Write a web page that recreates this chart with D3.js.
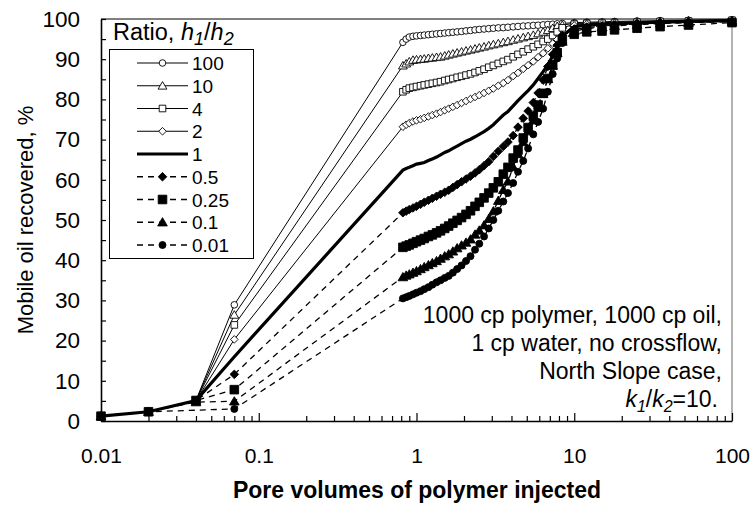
<!DOCTYPE html>
<html>
<head>
<meta charset="utf-8">
<script src="https://cdn.jsdelivr.net/npm/d3@7"></script>
<style>
body { margin: 0; background: #fff; }
svg { display: block; font-family: "Liberation Sans", Arial, sans-serif; }
</style>
</head>
<body>
<div id="viz"></div>
<script>
// pore volumes injected (x values)
var earlyPV = [0.01, 0.02, 0.04, 0.07];
var densePV = [0.82, 0.86, 0.9, 0.95, 1.0, 1.06, 1.12, 1.19, 1.26, 1.34,
  1.42, 1.51, 1.6, 1.7, 1.81, 1.93, 2.06, 2.2, 2.35, 2.5,
  2.68, 2.87, 3.07, 3.3, 3.55, 3.8, 4.1, 4.4, 4.75, 5.1,
  5.5, 5.9, 6.35, 6.8, 7.3, 7.8, 8.4];
var tailPV = [10, 12, 15, 18, 25, 35, 53, 100];
var pv = earlyPV.concat(densePV).concat(tailPV);

// mobile oil recovered, % (one array per h1/h2 ratio)
var rec100 = [1.2, 2.3, 5.1, 28.9,
  94.2, 95.0, 95.5, 95.7, 95.8, 95.9, 96.0, 96.1, 96.2, 96.3,
  96.4, 96.5, 96.6, 96.7, 96.8, 96.9, 97.05, 97.15, 97.3, 97.4,
  97.5, 97.6, 97.7, 97.8, 97.85, 97.95, 98.05, 98.15, 98.25, 98.3,
  98.4, 98.45, 98.55, 98.65, 98.7, 98.8, 98.9,
  99.1, 99.2, 99.3, 99.4, 99.5, 99.6, 99.7, 99.8];
var rec10 = [1.2, 2.3, 5.1, 26.4,
  88.4, 88.9, 89.4, 89.8, 89.9, 90.0, 90.1, 90.25, 90.35, 90.5,
  90.6, 90.85, 91.1, 91.35, 91.6, 91.85, 92.1, 92.35, 92.6, 92.85,
  93.1, 93.4, 93.65, 93.9, 94.2, 94.45, 94.8, 95.1, 95.4, 95.7,
  96.0, 96.4, 96.8, 97.2, 97.7, 98.2, 98.5,
  98.9, 99.0, 99.1, 99.2, 99.3, 99.4, 99.6, 99.7];
var rec4 = [1.2, 2.3, 5.1, 23.9,
  81.9, 82.4, 82.8, 83.0, 83.2, 83.4, 83.6, 83.8, 84.0, 84.2,
  84.4, 84.7, 84.95, 85.2, 85.5, 85.75, 86.05, 86.35, 86.7, 87.1,
  87.5, 88.0, 88.45, 88.95, 89.45, 89.9, 90.6, 91.2, 91.85, 92.5,
  93.1, 93.7, 94.4, 95.0, 95.9, 96.8, 97.8,
  98.7, 98.9, 99.0, 99.1, 99.2, 99.4, 99.5, 99.7];
var rec2 = [1.2, 2.3, 5.1, 20.3,
  73.2, 73.7, 74.1, 74.5, 74.8, 75.05, 75.4, 75.75, 76.1, 76.45,
  76.85, 77.3, 77.7, 78.15, 78.6, 79.1, 79.6, 80.1, 80.6, 81.05,
  81.6, 82.15, 82.7, 83.4, 84.05, 84.8, 85.8, 86.6, 87.6, 88.5,
  89.45, 90.5, 91.5, 92.7, 93.9, 94.9, 96.0,
  98.4, 98.7, 98.9, 99.0, 99.1, 99.3, 99.5, 99.6];
var rec1 = [1.2, 2.3, 5.1, 16.0,
  62.4, 62.8, 63.1, 63.5, 63.9, 64.1, 64.3, 64.8, 65.2, 65.65,
  66.2, 66.8, 67.2, 67.8, 68.4, 69.0, 69.6, 70.1, 70.7, 71.3,
  72.0, 72.8, 73.7, 74.9, 76.1, 77.0, 78.4, 79.7, 81.0, 82.2,
  83.6, 85.2, 86.9, 88.6, 90.8, 92.8, 95.8,
  98.1, 98.5, 98.7, 98.9, 99.0, 99.2, 99.4, 99.6];
var rec05 = [1.2, 2.3, 5.1, 11.6,
  51.8, 52.2, 52.6, 53.0, 53.4, 53.9, 54.4, 54.9, 55.4, 55.9,
  56.4, 56.9, 57.4, 58.1, 58.8, 59.5, 60.2, 60.9, 61.7, 62.5,
  63.5, 64.5, 65.8, 67.1, 68.3, 69.4, 71.0, 73.1, 75.3, 77.1,
  79.2, 81.6, 84.8, 88.2, 91.2, 93.5, 95.9,
  97.5, 98.0, 98.3, 98.5, 98.8, 99.0, 99.2, 99.5];
var rec025 = [1.2, 2.3, 5.1, 7.8,
  43.2, 43.5, 43.8, 44.2, 44.6, 45.0, 45.4, 45.9, 46.3, 46.8,
  47.3, 47.9, 48.5, 49.2, 49.9, 50.6, 51.4, 52.3, 53.4, 54.4,
  55.5, 56.7, 58.0, 59.5, 61.4, 63.1, 65.4, 67.4, 70.4, 73.0,
  75.8, 78.6, 81.5, 85.2, 88.6, 91.6, 94.8,
  96.2, 96.8, 97.0, 97.3, 97.7, 98.1, 98.5, 99.1];
var rec01 = [1.2, 2.3, 4.7, 4.9,
  35.8, 36.2, 36.5, 36.9, 37.3, 37.8, 38.3, 38.8, 39.3, 39.8,
  40.4, 41.0, 41.5, 42.2, 43.0, 43.7, 44.4, 45.2, 46.4, 47.4,
  48.7, 50.3, 52.2, 54.8, 57.5, 59.6, 63.2, 66.4, 69.4, 72.1,
  74.8, 77.9, 81.4, 85.1, 88.4, 91.6, 94.4,
  97.0, 97.6, 98.0, 98.3, 98.6, 98.9, 99.1, 99.4];
var rec001 = [1.2, 2.3, null, 3.0,
  30.5, 30.8, 31.1, 31.5, 31.9, 32.3, 32.8, 33.3, 33.9, 34.5,
  35.0, 35.6, 36.1, 36.9, 37.8, 38.7, 39.8, 41.0, 42.6, 44.1,
  45.9, 47.9, 50.0, 52.3, 54.6, 56.7, 59.2, 62.0, 64.7, 67.8,
  71.3, 74.4, 77.7, 81.9, 86.3, 90.2, 94.0,
  97.4, 97.9, 98.2, 98.5, 98.8, 99.0, 99.2, 99.4];

var ratios = ["100", "10", "4", "2", "1", "0.5", "0.25", "0.1", "0.01"];
var recovery = [rec100, rec10, rec4, rec2, rec1, rec05, rec025, rec01, rec001];

var xTicks = [0.01, 0.1, 1, 10, 100];
var yTicks = [0, 10, 20, 30, 40, 50, 60, 70, 80, 90, 100];

// look of each series (same order as ratios)
var styles = [
  {shape: "circle",   fill: false, s: 3.3, w: 1,   dash: null},
  {shape: "triangle", fill: false, s: 4.2, w: 1,   dash: null},
  {shape: "square",   fill: false, s: 3.3, w: 1,   dash: null},
  {shape: "diamond",  fill: false, s: 3.8, w: 1,   dash: null},
  {shape: null,       fill: false, s: 0,   w: 3.2, dash: null},
  {shape: "diamond",  fill: true,  s: 4.3, w: 1.3, dash: "6,5"},
  {shape: "square",   fill: true,  s: 4.3, w: 1.3, dash: "6,5"},
  {shape: "triangle", fill: true,  s: 4.6, w: 1.3, dash: "6,5"},
  {shape: "circle",   fill: true,  s: 3.5, w: 1.3, dash: "6,5"}
];

function markerPath(shape, s) {
  if (shape == "circle") return "M" + s + ",0A" + s + "," + s + " 0 1,1 " + (-s) + ",0A" + s + "," + s + " 0 1,1 " + s + ",0Z";
  if (shape == "square") return "M" + (-s) + "," + (-s) + "H" + s + "V" + s + "H" + (-s) + "Z";
  if (shape == "diamond") return "M0," + (-s) + "L" + s + ",0L0," + s + "L" + (-s) + ",0Z";
  if (shape == "triangle") return "M0," + (-s) + "L" + (s * 1.05) + "," + (s * 0.8) + "L" + (-s * 1.05) + "," + (s * 0.8) + "Z";
  return "";
}

var W = 754, H = 506;
var svg = d3.select("#viz").append("svg")
  .attr("width", W)
  .attr("height", H);

var x = d3.scaleLog().domain([0.01, 100]).range([101, 732]);
var y = d3.scaleLinear().domain([0, 100]).range([421, 19]);

// plot frame (top black, right grey)
svg.append("line").attr("x1", 101).attr("x2", 732).attr("y1", 19).attr("y2", 19)
  .attr("stroke", "#000").attr("stroke-width", 1);
svg.append("line").attr("x1", 732).attr("x2", 732).attr("y1", 19).attr("y2", 421)
  .attr("stroke", "#8a8a8a").attr("stroke-width", 1.3);

// ---- series ----
var line = d3.line()
  .x(function(d) { return x(d.pv); })
  .y(function(d) { return y(d.v); });

recovery.forEach(function(arr, k) {
  var st = styles[k];
  var pts = [];
  for (var i = 0; i < pv.length; i++) {
    if (arr[i] != null) pts.push({pv: pv[i], v: arr[i]});
  }
  var g = svg.append("g").attr("class", "series");
  g.append("path")
    .datum(pts)
    .attr("d", line)
    .attr("fill", "none")
    .attr("stroke", "#000")
    .attr("stroke-width", st.w)
    .attr("stroke-dasharray", st.dash);
  if (st.shape) {
    g.selectAll("path.mk")
      .data(pts)
      .enter()
      .append("path")
        .attr("class", "mk")
        .attr("transform", function(d) { return "translate(" + x(d.pv) + "," + y(d.v) + ")"; })
        .attr("d", markerPath(st.shape, st.s))
        .attr("fill", st.fill ? "#000" : "#fff")
        .attr("stroke", "#000")
        .attr("stroke-width", 0.9);
  }
});

// ---- axes ----
var xMinor = [];
[0.01, 0.1, 1, 10].forEach(function(d) {
  for (var m = 2; m <= 9; m++) xMinor.push(d * m);
});

svg.append("g")
  .attr("transform", "translate(0,421)")
  .call(d3.axisBottom(x).tickValues(xMinor).tickSize(-5).tickSizeOuter(0).tickFormat(""))
  .call(function(g) { g.select(".domain").remove(); g.selectAll("line").attr("stroke-width", 1.2); });

var xAxis = svg.append("g")
  .attr("transform", "translate(0,421)")
  .call(d3.axisBottom(x).tickValues(xTicks).tickSize(-8).tickSizeOuter(0)
    .tickPadding(27).tickFormat(function(d) { return String(d); }));
xAxis.select(".domain").attr("stroke-width", 1.6);
xAxis.selectAll("line").attr("stroke-width", 1.2);
xAxis.selectAll("text").attr("font-size", 21).attr("font-family", "Liberation Sans, Arial, sans-serif").attr("fill", "#000");

var yMinor = [5, 15, 25, 35, 45, 55, 65, 75, 85, 95];
svg.append("g")
  .attr("transform", "translate(101,0)")
  .call(d3.axisLeft(y).tickValues(yMinor).tickSize(-5).tickSizeOuter(0).tickFormat(""))
  .call(function(g) { g.select(".domain").remove(); g.selectAll("line").attr("stroke-width", 1.2); });

var yAxis = svg.append("g")
  .attr("transform", "translate(101,0)")
  .call(d3.axisLeft(y).tickValues(yTicks).tickSize(-5).tickSizeOuter(0).tickPadding(21));
yAxis.select(".domain").attr("stroke-width", 1.6);
yAxis.selectAll("line").attr("stroke-width", 1.2);
yAxis.selectAll("text").attr("font-size", 22.5).attr("font-family", "Liberation Sans, Arial, sans-serif").attr("fill", "#000");

// axis titles
svg.append("text")
  .attr("x", 417).attr("y", 498)
  .attr("text-anchor", "middle")
  .attr("font-size", 23)
  .attr("font-weight", "bold")
  .text("Pore volumes of polymer injected");

svg.append("text")
  .attr("transform", "translate(33,220) rotate(-90)")
  .attr("text-anchor", "middle")
  .attr("font-size", 22)
  .text("Mobile oil recovered, %");

// ---- legend ----
var title = svg.append("text").attr("x", 113).attr("y", 40).attr("font-size", 23.5);
title.append("tspan").text("Ratio, ");
title.append("tspan").attr("font-style", "italic").text("h");
title.append("tspan").attr("font-style", "italic").attr("font-size", 18).attr("dy", 5).text("1");
title.append("tspan").attr("dy", -5).text("/");
title.append("tspan").attr("font-style", "italic").text("h");
title.append("tspan").attr("font-style", "italic").attr("font-size", 18).attr("dy", 5).text("2");

svg.append("rect")
  .attr("x", 109.5).attr("y", 49.5).attr("width", 144).attr("height", 209)
  .attr("fill", "#fff").attr("stroke", "#000").attr("stroke-width", 1);

var leg = svg.selectAll("g.leg")
  .data(ratios)
  .enter()
  .append("g")
    .attr("class", "leg")
    .attr("transform", function(d, i) { return "translate(0," + (63 + i * 22.75) + ")"; });

leg.append("line")
  .attr("x1", 137).attr("x2", 188)
  .attr("stroke", "#000")
  .attr("stroke-width", function(d, i) { return styles[i].w; })
  .attr("stroke-dasharray", function(d, i) { return styles[i].dash; });

leg.append("path")
  .attr("transform", "translate(162.5,0)")
  .attr("d", function(d, i) { return markerPath(styles[i].shape, styles[i].s); })
  .attr("fill", function(d, i) { return styles[i].fill ? "#000" : "#fff"; })
  .attr("stroke", "#000")
  .attr("stroke-width", 0.9);

leg.append("text")
  .attr("x", 192).attr("y", 7)
  .attr("font-size", 19)
  .text(function(d) { return d; });

// ---- note ----
var noteLines = ["1000 cp polymer, 1000 cp oil,", "1 cp water, no crossflow,", "North Slope case,"];
svg.selectAll("text.note")
  .data(noteLines)
  .enter()
  .append("text")
    .attr("class", "note")
    .attr("x", 722)
    .attr("y", function(d, i) { return 323 + i * 28; })
    .attr("text-anchor", "end")
    .attr("font-size", 23)
    .text(function(d) { return d; });

var kt = svg.append("text").attr("x", 718).attr("y", 407).attr("text-anchor", "end").attr("font-size", 23);
kt.append("tspan").attr("font-style", "italic").text("k");
kt.append("tspan").attr("font-style", "italic").attr("font-size", 16).attr("dy", 5).text("1");
kt.append("tspan").attr("dy", -5).text("/");
kt.append("tspan").attr("font-style", "italic").text("k");
kt.append("tspan").attr("font-style", "italic").attr("font-size", 16).attr("dy", 5).text("2");
kt.append("tspan").attr("dy", -5).text("=10.");
</script>
</body>
</html>
